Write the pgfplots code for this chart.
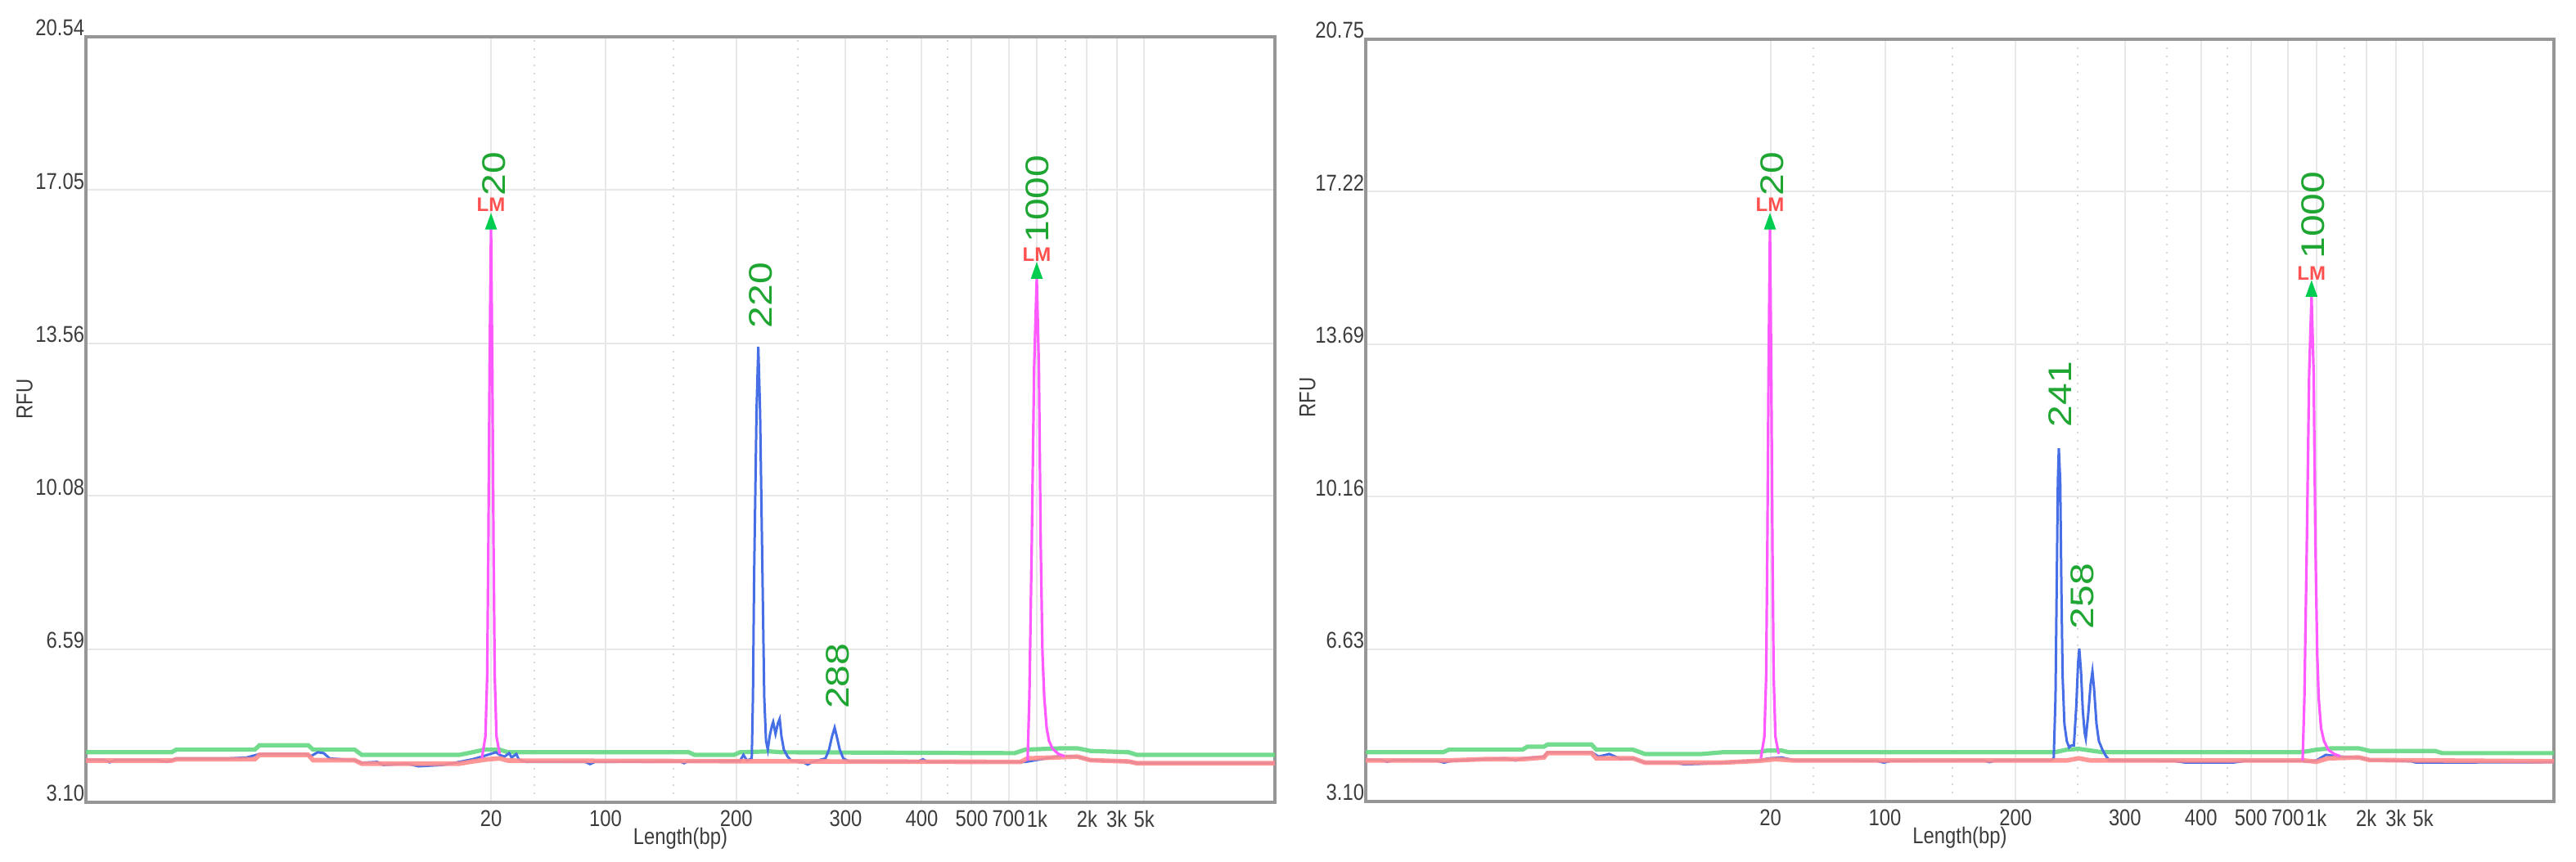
\documentclass[border=0pt]{standalone}
\usepackage{fontspec}
\setmainfont{Liberation Sans}
\newfontfamily\narrow{Liberation Sans}[FakeStretch=0.85]
\usepackage{pgfplots}
\pgfplotsset{compat=1.18}
\usetikzlibrary{calc}
\definecolor{framec}{RGB}{150,150,150}
\definecolor{gridc}{RGB}{232,232,232}
\definecolor{gridm}{RGB}{215,215,215}
\definecolor{tickc}{RGB}{60,60,60}
\definecolor{trgreen}{RGB}{100,215,130}
\definecolor{trred}{RGB}{255,140,140}
\definecolor{trblue}{RGB}{70,110,230}
\definecolor{trmag}{RGB}{255,90,255}
\definecolor{labg}{RGB}{30,165,50}
\definecolor{lmred}{RGB}{255,80,80}
\definecolor{arrowg}{RGB}{0,205,80}
\tikzset{
  lbl/.style={rotate=90, anchor=west, inner sep=0pt, text=labg, font=\fontsize{10}{10}\selectfont},
  lm/.style={inner sep=0pt, text=lmred, font=\bfseries\fontsize{6}{6}\selectfont},
}
\pgfplotsset{
  ce/.style={
    scale only axis, anchor=south west,
    xmin=0, xmax=1000,
    axis line style={draw=framec, line width=1pt},
    xtick={340.7,437,547,639,703,745,776,800,842,867,890},
    xticklabels={20,100,200,300,400,500,700,1k,2k,3k,5k},
    minor xtick={377,494,599,674,725,824},
    xmajorgrids, xminorgrids, ymajorgrids,
    major grid style={draw=gridc, line width=0.5pt},
    minor grid style={draw=gridm, line width=0.5pt, dotted},
    major tick length=0pt, minor tick length=0pt,
    tick label style={font=\narrow\fontsize{7}{7}\selectfont, text=tickc, inner sep=0pt},
    xticklabel style={anchor=north, yshift=-2.25pt},
    yticklabel style={anchor=south east, xshift=-0.3pt},
    label style={font=\narrow\fontsize{7}{7}\selectfont, text=tickc},
    xlabel={Length(bp)}, ylabel={RFU},
    xlabel style={at={(axis description cs:0.5,-0.047)}, anchor=center},
  },
  gtr/.style={color=trgreen, line width=1.3pt, opacity=0.9},
  rtr/.style={color=trred, line width=1.4pt, opacity=0.9},
  btr/.style={color=trblue, line width=0.75pt},
  mtr/.style={color=trmag, line width=0.8pt},
  arr/.style={only marks, mark=triangle*, mark size=1.8pt, color=arrowg, mark options={yscale=1.6}},
}
\begin{document}
\begin{tikzpicture}
\useasboundingbox (0,0) rectangle (787pt,263.25pt);
% ---------------- left panel ----------------
\begin{axis}[ce, at={(26.25pt,18pt)}, width=363.25pt, height=234pt,
  ymin=3.10, ymax=20.54,
  ytick={3.10,6.59,10.08,13.56,17.05,20.54},
  yticklabels={3.10,6.59,10.08,13.56,17.05,20.54},
  ylabel style={at={(axis description cs:-0.0516,0.527)}, anchor=center}]
\addplot[gtr] coordinates {(0,4.24) (72,4.24) (76,4.30) (142,4.30) (146,4.40) (187,4.40) (191,4.30) (226,4.30) (232,4.18) (314,4.18) (325,4.24) (335,4.30) (348,4.30) (355,4.24) (507,4.24) (512,4.18) (545,4.18) (550,4.24) (575,4.26) (585,4.24) (781,4.22) (790,4.30) (820,4.33) (834,4.33) (845,4.27) (877,4.24) (884,4.18) (1000,4.18)};
\addplot[btr] coordinates {(0,4.07) (15,4.07) (20,4.01) (24,4.06) (60,4.06) (68,4.02) (72,4.06) (76,4.10) (120,4.10) (135,4.12) (146,4.20) (185,4.20) (189,4.15) (195,4.24) (200,4.22) (205,4.10) (226,4.06) (232,4.00) (245,4.02) (250,3.95) (270,3.98) (280,3.92) (300,3.95) (314,4.02) (325,4.08) (333,4.14) (340,4.20) (345,4.24) (348,4.18) (352,4.14) (356,4.22) (358,4.12) (362,4.20) (364,4.08) (370,4.02) (420,4.02) (424,3.97) (428,4.02) (500,4.03) (503,3.99) (506,4.03) (550,4.04) (553,4.18) (556,4.05) (560,4.10) (561,5.5) (562,8.3) (564,12) (565.5,13.48) (567,12) (569,8.3) (570.5,5.5) (572,4.5) (573.5,4.3) (575,4.6) (577,4.85) (578,4.93) (580,4.66) (582,4.90) (583.5,5.00) (585,4.60) (587,4.30) (590,4.15) (593,4.05) (603,4.02) (607,3.96) (611,4.02) (622,4.10) (625,4.30) (627.5,4.60) (629.7,4.80) (631.5,4.60) (634,4.30) (637,4.10) (642,4.03) (700,4.03) (704,4.08) (708,4.02) (760,4.02) (790,4.02) (812,4.12) (820,4.16) (834,4.14) (845,4.06) (877,4.03) (884,3.99) (1000,3.99)};
\addplot[rtr] coordinates {(0,4.05) (72,4.05) (76,4.08) (142,4.08) (146,4.18) (187,4.18) (191,4.06) (226,4.06) (232,3.98) (314,3.98) (325,4.03) (338,4.08) (348,4.10) (355,4.05) (780,4.02) (786,4.02) (792,4.10) (834,4.14) (845,4.06) (877,4.03) (884,3.99) (1000,3.99)};
\addplot[mtr] coordinates {(333,4.10) (336,4.60) (337.5,6) (338.5,9) (339.5,13) (340.7,16.16) (341.8,13) (342.8,9) (343.8,6) (345.3,4.60) (348,4.20)};
\addplot[mtr] coordinates {(792,4.05) (793.5,5.5) (795.5,9) (797.5,13) (799.7,15.04) (801.5,13) (803,9) (804.5,6.5) (806,5.5) (808,4.8) (810,4.5) (813,4.32) (818,4.20) (823,4.15)};
\addplot[arr] coordinates {(340.7,16.27) (799.7,15.15)};
\node[lm] at ($(axis cs:340.7,16.16)+(0pt,7.5pt)$) {LM};
\node[lm] at ($(axis cs:799.7,15.04)+(0pt,7.3pt)$) {LM};
\node[lbl] at ($(axis cs:340.7,16.16)+(0.8pt,10pt)$) {\scalebox{1.2}[1]{20}};
\node[lbl] at ($(axis cs:799.7,15.04)+(0.2pt,10.75pt)$) {\scalebox{1.2}[1]{1000}};
\node[lbl] at ($(axis cs:565.5,13.48)+(0.8pt,5.5pt)$) {\scalebox{1.2}[1]{220}};
\node[lbl] at ($(axis cs:629.7,4.80)+(1pt,5.5pt)$) {\scalebox{1.2}[1]{288}};
\end{axis}
% ---------------- right panel ----------------
\begin{axis}[ce, at={(417.25pt,18.25pt)}, width=363pt, height=233pt,
  ymin=3.10, ymax=20.75,
  ytick={3.10,6.63,10.16,13.69,17.22,20.75},
  yticklabels={3.10,6.63,10.16,13.69,17.22,20.75},
  ylabel style={at={(axis description cs:-0.049,0.53)}, anchor=center}]
\addplot[gtr] coordinates {(0,4.24) (65,4.24) (70,4.30) (132,4.30) (136,4.37) (150,4.37) (153,4.42) (190,4.42) (194,4.30) (225,4.30) (235,4.20) (283,4.20) (300,4.24) (330,4.24) (338,4.28) (350,4.28) (356,4.24) (580,4.24) (590,4.30) (600,4.32) (610,4.28) (620,4.24) (785,4.24) (792,4.26) (800,4.30) (812,4.33) (836,4.33) (845,4.27) (900,4.27) (906,4.22) (1000,4.22)};
\addplot[btr] coordinates {(0,4.07) (12,4.07) (18,4.02) (24,4.06) (60,4.04) (66,4.00) (72,4.04) (100,4.08) (118,4.10) (126,4.05) (132,4.10) (150,4.14) (153,4.24) (190,4.24) (196,4.14) (205,4.20) (215,4.08) (225,4.10) (235,4.00) (260,4.00) (268,3.96) (280,3.97) (300,4.00) (330,4.05) (340,4.10) (350,4.12) (356,4.08) (362,4.05) (430,4.04) (436,4.00) (442,4.04) (520,4.05) (525,4.01) (530,4.05) (576,4.05) (579,4.10) (580.5,5.5) (581.5,8) (582.5,10.5) (583.3,11.28) (584.5,10.5) (585.5,8) (586.5,6) (588,4.9) (590,4.5) (592,4.35) (594,4.40) (596,4.40) (598,5.3) (599.5,6.3) (600.5,6.64) (602,6.1) (603.5,5.2) (605,4.7) (606,4.56) (608,5.1) (610,5.8) (611.6,6.11) (613,5.7) (615,4.9) (617,4.5) (620,4.3) (623,4.15) (626,4.05) (680,4.04) (690,4.00) (730,4.00) (740,4.04) (788,4.04) (792,4.02) (800,4.05) (808,4.18) (820,4.14) (836,4.12) (845,4.06) (880,4.03) (884,4.00) (1000,4.01)};
\addplot[rtr] coordinates {(0,4.05) (70,4.05) (100,4.08) (132,4.08) (150,4.12) (153,4.22) (190,4.22) (194,4.10) (225,4.10) (235,4.00) (300,4.00) (330,4.04) (345,4.08) (360,4.05) (590,4.05) (600,4.10) (610,4.05) (790,4.05) (800,4.02) (810,4.10) (836,4.12) (845,4.06) (1000,4.03)};
\addplot[mtr] coordinates {(332.5,4.10) (335.5,4.60) (337,6) (338,9) (339,13) (340.2,16.36) (341.3,13) (342.3,9) (343.3,6) (344.8,4.60) (347.5,4.20)};
\addplot[mtr] coordinates {(788.5,4.05) (790,5.5) (792,9) (794,13) (796,14.80) (797.8,13) (799.3,9) (800.8,6.5) (802,5.5) (804,4.8) (806.5,4.5) (810,4.30) (815,4.20) (820,4.15)};
\addplot[arr] coordinates {(340.2,16.47) (796,14.91)};
\node[lm] at ($(axis cs:340.2,16.36)+(0pt,7.5pt)$) {LM};
\node[lm] at ($(axis cs:796,14.80)+(0pt,7pt)$) {LM};
\node[lbl] at ($(axis cs:340.2,16.36)+(0.8pt,10pt)$) {\scalebox{1.2}[1]{20}};
\node[lbl] at ($(axis cs:796,14.80)+(0.5pt,11.25pt)$) {\scalebox{1.2}[1]{1000}};
\node[lbl] at ($(axis cs:583.3,11.28)+(0.5pt,6.25pt)$) {\scalebox{1.2}[1]{241}};
\node[lbl] at ($(axis cs:600.5,6.64)+(1pt,5.75pt)$) {\scalebox{1.2}[1]{258}};
\end{axis}
\end{tikzpicture}
\end{document}
